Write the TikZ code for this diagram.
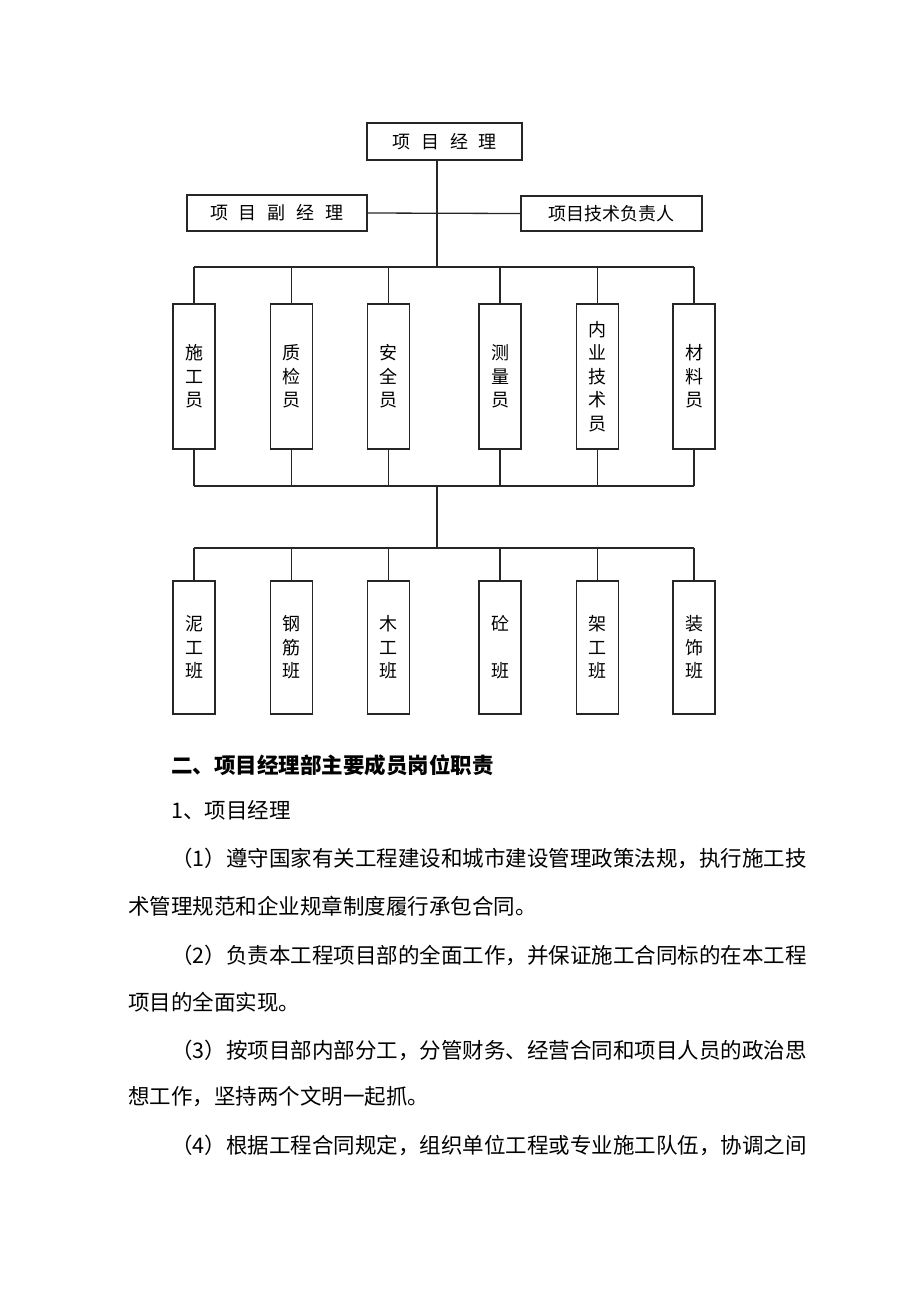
\documentclass[tikz,border=0pt]{standalone}
\usepackage{fontspec}
\setmainfont{Noto Sans CJK SC}
\usetikzlibrary{positioning}

\newcommand\chartfont{\fontsize{18}{23.5}\selectfont}
\newcommand\bodyfont{\fontsize{21.5}{24}\selectfont}
\newcommand\chgap{\hspace{11pt}}

\tikzset{
  box/.style={draw=black!85, line width=1.3pt, inner sep=0pt, font=\chartfont},
  post/.style={box, minimum width=42pt, align=center},
  wire/.style={draw=black!85, line width=1.3pt},
  line/.style={anchor=west, inner sep=0pt, font=\bodyfont},
}

\begin{document}
\begin{tikzpicture}[x=1pt,y=-1pt]
  \useasboundingbox (0,0) rectangle (920,1302);

  % management
  \node[box, minimum width=155pt, minimum height=37pt] (pm) at (444.5,141.5)
    {项\chgap 目\chgap 经\chgap 理};
  \node[box, minimum width=180pt, minimum height=36pt] (dpm) at (277,213)
    {项\chgap 目\chgap 副\chgap 经\chgap 理};
  \node[box, minimum width=181pt, minimum height=35pt] (tech) at (611.5,213.5)
    {项目技术负责人};

  % staff
  \foreach[count=\i] \x/\lbl in {194/{施\\工\\员}, 291.5/{质\\检\\员},
      388.5/{安\\全\\员}, 500/{测\\量\\员}, 597.5/{内\\业\\技\\术\\员},
      694/{材\\料\\员}} {
    \node[post, minimum height=145pt] (s\i) at (\x,376.5) {\lbl};
  };

  % crews
  \foreach[count=\i] \x/\lbl in {194/{泥\\工\\班}, 291.5/{钢\\筋\\班},
      388.5/{木\\工\\班}, 500/{砼\\~\\班}, 597.5/{架\\工\\班},
      694/{装\\饰\\班}} {
    \node[post, minimum height=133pt] (b\i) at (\x,647.5) {\lbl};
  };

  \coordinate (j1) at (437,267);
  \coordinate (j2) at (437,486);
  \coordinate (j3) at (437,548);

  \draw[wire] (pm.south -| j1) -- (j1);
  \draw[wire] (dpm.east) -- (tech.west);
  \draw[wire] (s1.north |- j1) -- (s6.north |- j1);
  \foreach \i in {1,...,6} {
    \draw[wire] (s\i.north |- j1) -- (s\i.north);
    \draw[wire] (s\i.south) -- (s\i.south |- j2);
    \draw[wire] (b\i.north |- j3) -- (b\i.north);
  };
  \draw[wire] (s1.south |- j2) -- (s6.south |- j2);
  \draw[wire] (j2) -- (j3);
  \draw[wire] (b1.north |- j3) -- (b6.north |- j3);

  % duties
  \node[line, font=\bodyfont\bfseries] (head) at (171,765) {二、项目经理部主要成员岗位职责};
  \node[line] (sub) at (171,810) {1、项目经理};
  \node[line] (p1a) at (171,858) {（1）遵守国家有关工程建设和城市建设管理政策法规，执行施工技};
  \node[line] (p1b) at (128,906) {术管理规范和企业规章制度履行承包合同。};
  \node[line] (p2a) at (171,955) {（2）负责本工程项目部的全面工作，并保证施工合同标的在本工程};
  \node[line] (p2b) at (128,1002) {项目的全面实现。};
  \node[line] (p3a) at (171,1050) {（3）按项目部内部分工，分管财务、经营合同和项目人员的政治思};
  \node[line] (p3b) at (128,1097) {想工作，坚持两个文明一起抓。};
  \node[line] (p4a) at (171,1145) {（4）根据工程合同规定，组织单位工程或专业施工队伍，协调之间};
\end{tikzpicture}
\end{document}
